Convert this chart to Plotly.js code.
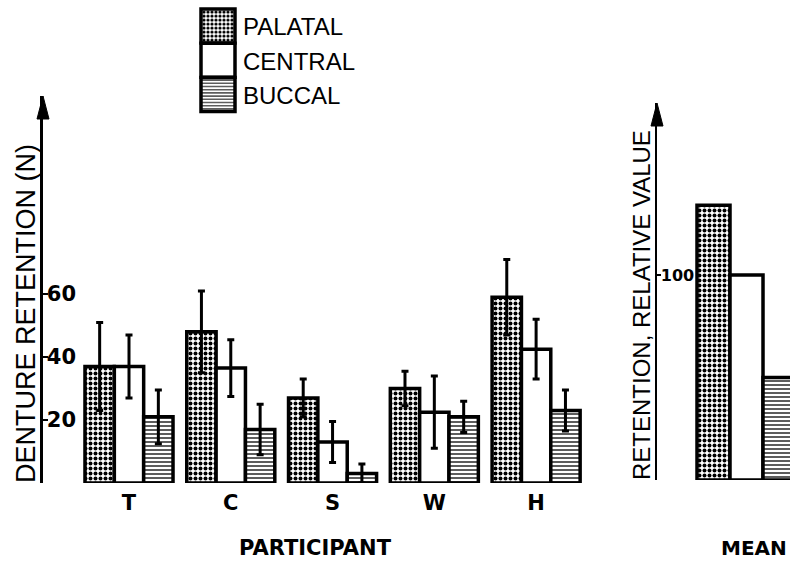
<!DOCTYPE html>
<html>
<head>
<meta charset="utf-8">
<script src="https://cdn.plot.ly/plotly-3.0.1.min.js"></script>
<style>html,body{margin:0;padding:0;background:#fff}#chart{width:790px;height:561px}</style>
</head>
<body>
<div id="chart"></div>
<script>
// ---- data ----
const participants = ['T', 'C', 'S', 'W', 'H'];
const seriesNames = ['PALATAL', 'CENTRAL', 'BUCCAL'];
const palatal = [37, 48, 27, 30, 59];
const palatalErr = [14, 13, 6, 5.5, 12];
const central = [37, 36.5, 13, 22.5, 42.5];
const centralErr = [10, 9, 6.5, 11.5, 9.5];
const buccal = [21, 17, 3, 21, 23];
const buccalErr = [8.5, 8, 3, 5, 6.5];
const meanCategory = ['MEAN'];
const meanPalatal = [134];
const meanCentral = [100];
const meanBuccal = [50];
const leftTicks = [20, 40, 60];
const rightTicks = [100];

// ---- styling ----
const W = 790, H = 561;
const fx = p => p / W;
const fy = p => 1 - p / H;
const tickFont = {family: 'DejaVu Sans', size: 21, color: '#000', weight: 700};
const styles = [
  {color: '#fff', line: {color: '#000', width: 3.5},
   pattern: {shape: '.', fgcolor: '#000', bgcolor: '#fff', size: 5, solidity: 0.5}},
  {color: '#fff', line: {color: '#000', width: 3.5}},
  {color: '#fff', line: {color: '#000', width: 3.5},
   pattern: {shape: '-', fgcolor: '#333', bgcolor: '#fff', size: 4, solidity: 0.4}}
];
const err = arr => ({type: 'data', array: arr, visible: true, color: '#000', thickness: 3, width: 3.5});

const leftVals = [palatal, central, buccal];
const leftErrs = [palatalErr, centralErr, buccalErr];
const meanVals = [meanPalatal, meanCentral, meanBuccal];

const traces = [];
seriesNames.forEach((name, i) => {
  traces.push({
    type: 'bar', name: name, x: participants, y: leftVals[i],
    error_y: err(leftErrs[i]), marker: styles[i], xaxis: 'x', yaxis: 'y',
    legendgroup: name, cliponaxis: false
  });
});
seriesNames.forEach((name, i) => {
  traces.push({
    type: 'bar', name: name, x: meanCategory, y: meanVals[i],
    marker: styles[i], xaxis: 'x2', yaxis: 'y2', showlegend: false,
    legendgroup: name
  });
});

const arrow = (x, yTop) => ({
  type: 'path', xref: 'paper', yref: 'paper',
  path: `M${fx(x)},${fy(yTop)} L${fx(x - 6)},${fy(yTop + 23)} L${fx(x + 6)},${fy(yTop + 23)} Z`,
  fillcolor: '#000', line: {color: '#000', width: 1}
});

const layout = {
  width: W, height: H,
  margin: {l: 0, r: 0, t: 0, b: 0},
  paper_bgcolor: '#fff', plot_bgcolor: 'rgba(0,0,0,0)',
  barmode: 'group', bargap: 0.135, bargroupgap: 0,
  showlegend: true,
  legend: {
    x: fx(193), y: fy(4), xanchor: 'left', yanchor: 'top',
    font: {family: 'Liberation Sans', size: 24, color: '#000'},
    tracegroupgap: 0, itemwidth: 40, bgcolor: 'rgba(0,0,0,0)'
  },
  xaxis: {
    domain: [fx(43), fx(587)], range: [-0.845, 4.5], type: 'category',
    showline: false, showgrid: false, zeroline: false, ticks: '',
    tickfont: tickFont, ticklabelstandoff: 5,
    title: {text: 'PARTICIPANT', font: {family: 'DejaVu Sans', size: 21, weight: 700, color: '#000'}, standoff: 26}
  },
  yaxis: {
    domain: [fy(483), fy(96)], range: [0, 122.9],
    showline: true, linewidth: 3, linecolor: '#000',
    showgrid: false, zeroline: false,
    tickvals: leftTicks, ticks: 'inside', ticklen: 5, tickwidth: 2, tickcolor: '#000',
    ticklabelposition: 'inside', tickfont: tickFont
  },
  xaxis2: {
    domain: [fx(657), 1], range: [-0.782, 0.38], type: 'category', anchor: 'y2',
    showline: false, showgrid: false, zeroline: false, showticklabels: false, ticks: ''
  },
  yaxis2: {
    domain: [fy(480), fy(103)], range: [0, 183.9], anchor: 'x2',
    showline: true, linewidth: 2.5, linecolor: '#000',
    showgrid: false, zeroline: false,
    tickvals: rightTicks, ticks: 'inside', ticklen: 4, tickwidth: 2, tickcolor: '#000',
    ticklabelposition: 'inside', tickfont: {family: 'DejaVu Sans', size: 16, color: '#000', weight: 700}
  },
  shapes: [arrow(43, 96), arrow(657, 103)],
  annotations: [
    {text: 'DENTURE RETENTION (N)', xref: 'paper', yref: 'paper', x: fx(26), y: fy(314),
     textangle: -90, showarrow: false, xanchor: 'center', yanchor: 'middle',
     font: {family: 'Liberation Sans', size: 27, color: '#000'}},
    {text: 'RETENTION, RELATIVE VALUE', xref: 'paper', yref: 'paper', x: fx(641), y: fy(305),
     textangle: -90, showarrow: false, xanchor: 'center', yanchor: 'middle',
     font: {family: 'Liberation Sans', size: 24, color: '#000'}},
    {text: 'MEAN', xref: 'paper', yref: 'paper', x: fx(754), y: fy(548),
     showarrow: false, xanchor: 'center', yanchor: 'middle',
     font: {family: 'DejaVu Sans', size: 20, weight: 700, color: '#000'}}
  ]
};

Plotly.newPlot('chart', traces, layout, {staticPlot: true, displayModeBar: false}).then(gd => {
  // enlarge the legend swatches so they form the tall stacked key of the original
  gd.querySelectorAll('.legend .legendpoints path').forEach(p => {
    p.setAttribute('d', 'M17,17H-17V-17H17Z');
    p.style.strokeWidth = '3.5px';
  });
});
</script>
</body>
</html>
